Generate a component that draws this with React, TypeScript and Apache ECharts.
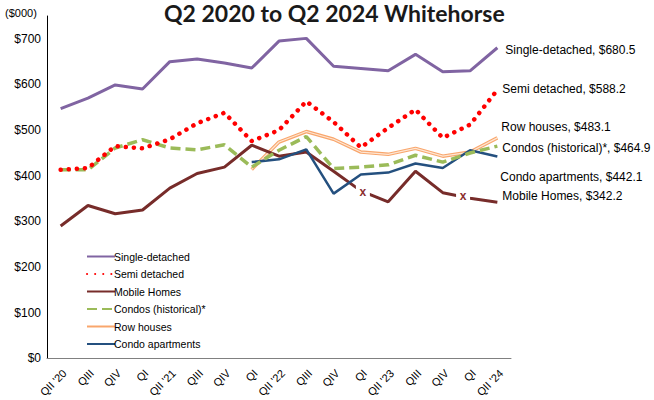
import React, { useEffect, useRef } from "react";
import * as echarts from "echarts";

const categories = ["QII '20", "QIII", "QIV", "QI", "QII '21", "QIII", "QIV", "QI", "QII '22", "QIII", "QIV", "QI", "QII '23", "QIII", "QIV", "QI", "QII '24"];
const singleDetached = [547, 570, 599, 590, 650, 656, 647, 636, 695, 701, 640, 635, 630, 666, 628, 630, 680.5];
const semiDetached = [413, 417, 465, 460, 480, 515, 538, 476, 500, 563, 518, 462, 505, 545, 483, 512, 588.2];
const mobileHomes = [290, 335, 317, 325, 373, 405, 419, 467, 443, 452, 410, 367, 343, 410, 363, 351, 342.2];
const condosHistorical = [413, 413, 461, 479, 461, 457, 468, 419, 456, 486, 416, 419, 424, 445, 430, 450, 464.9];
const rowHouses = [null, null, null, null, null, null, null, 414, 474, 497, 480, 452, 447, 460, 443, 452, 483.1];
const condoApartments = [null, null, null, null, null, null, null, 430, 436, 458, 361, 403, 407, 427, 417, 456, 442.1];
const suppressedIdx = [11, 15];
const yTicks = [0, 100, 200, 300, 400, 500, 600, 700];

const FONT = "Liberation Sans, Arial, sans-serif";

function endLabel(offset: number[]) {
  return {
    show: true,
    formatter: (p: any) => `${p.seriesName}, $${Number(p.value).toFixed(1)}`,
    color: "#000",
    fontSize: 12,
    fontFamily: FONT,
    offset,
  };
}

export default function App() {
  const ref = useRef<HTMLDivElement>(null);
  useEffect(() => {
    if (!ref.current) return;
    const chart = echarts.init(ref.current, undefined, { renderer: "svg" });
    chart.setOption({
      animation: false,
      backgroundColor: "#fff",
      title: {
        text: "Q2 2020 to Q2 2024 Whitehorse",
        left: 164,
        top: 1,
        padding: 0,
        textStyle: { fontFamily: "Lato", fontWeight: "bold", fontSize: 23, lineHeight: 23, color: "#1a1a1a" },
      },
      graphic: [
        {
          type: "text",
          left: 5,
          top: 7,
          style: { text: "($000)", fontSize: 11, fontFamily: FONT, fill: "#000" },
        },
      ],
      legend: {
        orient: "vertical",
        left: 81,
        top: 246,
        itemWidth: 28,
        itemHeight: 10,
        itemGap: 6.5,
        itemStyle: { opacity: 0 },
        textStyle: { fontFamily: FONT, fontSize: 10.5, color: "#000", padding: [0, 0, 0, -6] },
        data: ["Single-detached", "Semi detached", "Mobile Homes", "Condos (historical)*", "Row houses", "Condo apartments"],
      },
      grid: { left: 47, right: 143, top: 16, bottom: 40.5 },
      xAxis: {
        type: "category",
        data: categories,
        boundaryGap: true,
        axisLine: { lineStyle: { color: "#808080", width: 1 } },
        axisTick: { show: false },
        axisLabel: { rotate: 45, fontSize: 11, fontFamily: FONT, color: "#000", interval: 0, margin: 9, verticalAlign: "top" },
      },
      yAxis: {
        type: "value",
        min: 0,
        max: 750,
        interval: 100,
        splitLine: { show: false },
        axisLine: { show: true, lineStyle: { color: "#000", width: 1 } },
        axisTick: { show: false },
        axisLabel: {
          fontSize: 12,
          fontFamily: FONT,
          color: "#000",
          margin: 6,
          showMaxLabel: false,
          formatter: (v: number) => (yTicks.includes(v) ? `$${v}` : ""),
        },
      },
      series: [
        {
          name: "Single-detached",
          type: "line",
          data: singleDetached,
          symbol: "none",
          lineStyle: { color: "#8064A2", width: 3 },
          itemStyle: { color: "#8064A2" },
          endLabel: endLabel([0, 2]),
          z: 5,
        },
        {
          name: "Semi detached",
          type: "line",
          data: semiDetached,
          symbol: "none",
          lineStyle: { color: "#FF0000", width: 4.5, type: [0.1, 8], cap: "round" },
          itemStyle: { color: "#FF0000" },
          endLabel: endLabel([-3, -1]),
          z: 6,
        },
        {
          name: "Mobile Homes",
          type: "line",
          data: mobileHomes,
          symbol: "none",
          lineStyle: { color: "#772C2A", width: 3 },
          itemStyle: { color: "#772C2A" },
          endLabel: endLabel([-3, -6]),
          markPoint: {
            symbol: "rect",
            symbolSize: [14, 14],
            itemStyle: { color: "#fff" },
            label: { show: true, position: "inside", formatter: "x", color: "#8B2F2F", fontSize: 12, fontWeight: "bold", fontFamily: FONT },
            data: suppressedIdx.map((i) => ({
              coord: [i, mobileHomes[i]],
              symbolOffset: i === 15 ? [-7, -2] : [2, 1],
            })),
          },
          z: 3,
        },
        {
          name: "Condos (historical)*",
          type: "line",
          data: condosHistorical,
          symbol: "none",
          lineStyle: { color: "#9BBB59", width: 3.5, type: [10, 5] },
          itemStyle: { color: "#9BBB59" },
          endLabel: endLabel([-3, 2]),
          z: 4,
        },
        {
          name: "Row houses",
          type: "line",
          data: rowHouses,
          symbol: "none",
          lineStyle: { color: "#F9A66C", width: 3.5 },
          itemStyle: { color: "#F9A66C" },
          endLabel: endLabel([-4, -11]),
          z: 2,
        },
        {
          name: "Row houses inner",
          type: "line",
          data: rowHouses,
          symbol: "none",
          lineStyle: { color: "#FDE6D4", width: 1.2 },
          itemStyle: { color: "#FDE6D4" },
          z: 2,
          silent: true,
        },
        {
          name: "Condo apartments",
          type: "line",
          data: condoApartments,
          symbol: "none",
          lineStyle: { color: "#24507F", width: 2.5 },
          itemStyle: { color: "#24507F" },
          endLabel: endLabel([-5, 20]),
          z: 3,
        },
      ],
    });
    return () => chart.dispose();
  }, []);
  return <div ref={ref} style={{ position: "absolute", left: 0, top: 0, width: 654, height: 400 }} />;
}
